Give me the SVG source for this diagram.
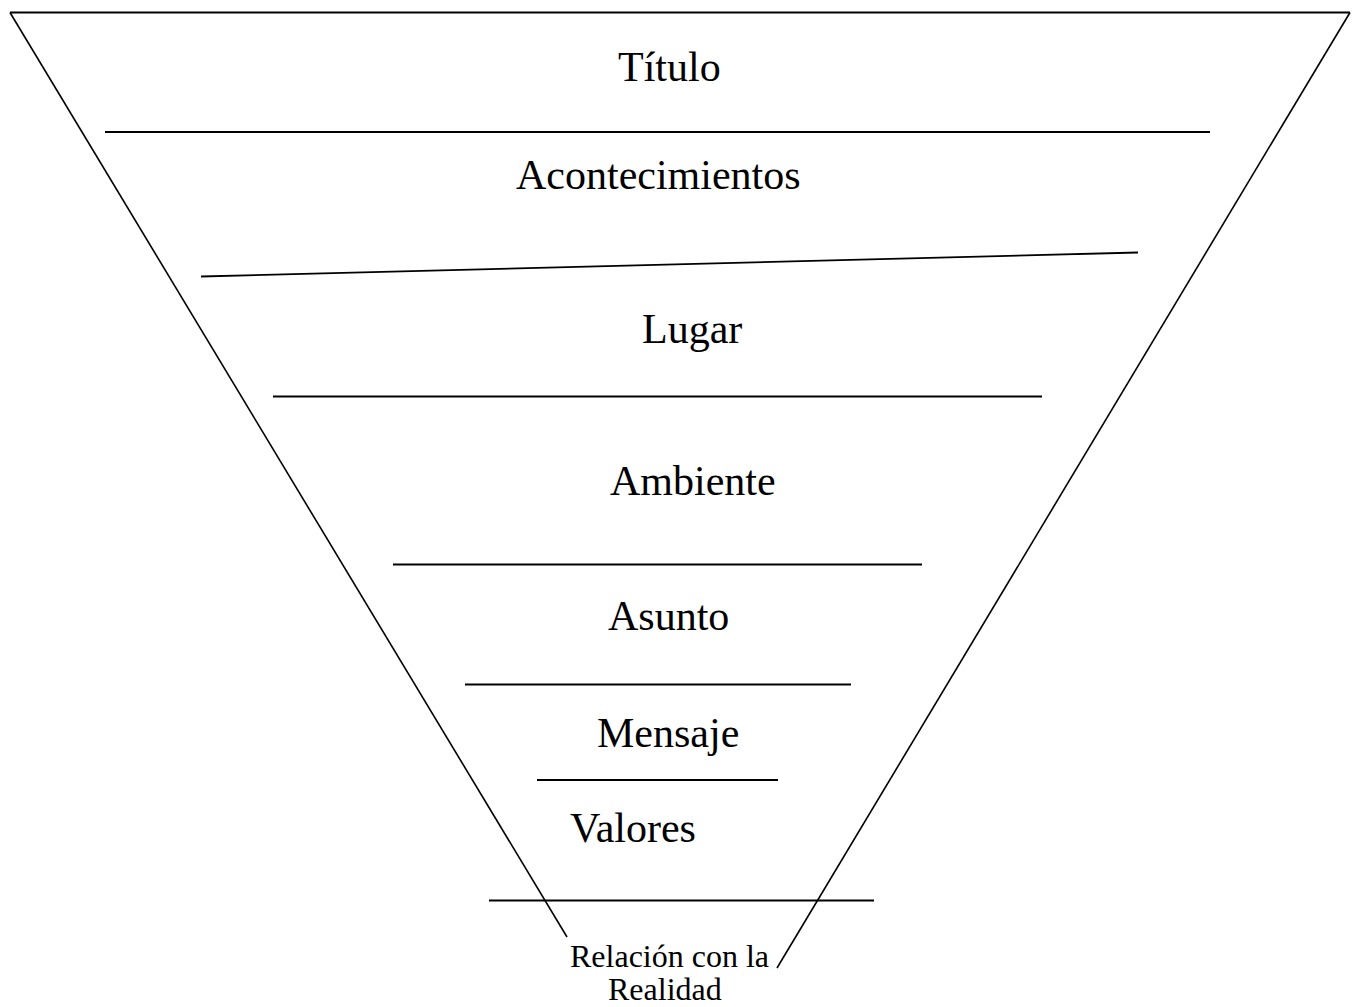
<svg xmlns="http://www.w3.org/2000/svg" width="1353" height="1007" viewBox="0 0 1353 1007">
<style>
.ln{stroke:#000;stroke-width:1.8;fill:none}
.dg{stroke:#000;stroke-width:1.6;fill:none}
.lb{font-family:"Liberation Serif","Times New Roman",serif;font-size:42px;fill:#000}
.sm{font-family:"Liberation Serif","Times New Roman",serif;font-size:32px;fill:#000}
</style>
<rect width="1353" height="1007" fill="#fff"/>
<g id="connectors">
<line class="ln" x1="10" y1="12.5" x2="1350" y2="12.5"/>
<line class="dg" x1="10" y1="12.5" x2="567" y2="937"/>
<line class="dg" x1="1350" y1="12.5" x2="777" y2="968"/>
<line class="ln" x1="105" y1="132" x2="1210" y2="132"/>
<line class="ln" x1="201" y1="276.5" x2="1138" y2="252.5"/>
<line class="ln" x1="273" y1="396.5" x2="1042" y2="396.5"/>
<line class="ln" x1="393" y1="564.5" x2="922" y2="564.5"/>
<line class="ln" x1="465" y1="684.5" x2="851" y2="684.5"/>
<line class="ln" x1="537" y1="780" x2="778" y2="780"/>
<line class="ln" x1="489" y1="900.5" x2="874" y2="900.5"/>
</g>
<g id="titulo"><text class="lb" x="618" y="80.5">Título</text></g>
<g id="acontecimientos"><text class="lb" x="516" y="189">Acontecimientos</text></g>
<g id="lugar"><text class="lb" x="642" y="342.5">Lugar</text></g>
<g id="ambiente"><text class="lb" x="610" y="495">Ambiente</text></g>
<g id="asunto"><text class="lb" x="608" y="630">Asunto</text></g>
<g id="mensaje"><text class="lb" x="597" y="747">Mensaje</text></g>
<g id="valores"><text class="lb" x="570" y="842">Valores</text></g>
<g id="realidad">
<text class="sm" x="570" y="967">Relación con la</text>
<text class="sm" x="608" y="1000">Realidad</text>
</g>
</svg>
